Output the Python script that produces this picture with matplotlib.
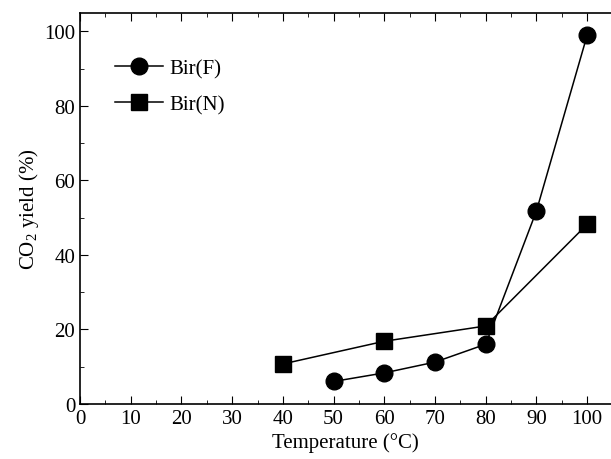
import matplotlib
matplotlib.use('Agg')
import matplotlib.pyplot as plt
from matplotlib.ticker import MultipleLocator

plt.rcParams['font.family'] = ['Liberation Serif', 'DejaVu Serif']
plt.rcParams['mathtext.fontset'] = 'custom'
plt.rcParams['mathtext.rm'] = 'Liberation Serif'

# data
temp_f = [50, 60, 70, 80, 90, 100]
yield_f = [6.0, 8.3, 11.2, 16.0, 51.8, 99.0]
temp_n = [40, 60, 80, 100]
yield_n = [10.7, 16.8, 20.9, 48.2]

fig = plt.figure(figsize=(6.11, 4.6), dpi=100)
ax = fig.add_axes([0.131, 0.12, 0.869, 0.85])

ax.plot(temp_f, yield_f, 'k-', marker='o', markersize=12, lw=1.1, label='Bir(F)')
ax.plot(temp_n, yield_n, 'k-', marker='s', markersize=11, lw=1.1, label='Bir(N)')

ax.set_xlim(0, 104.7)
ax.set_ylim(0, 105)
ax.xaxis.set_major_locator(MultipleLocator(10))
ax.xaxis.set_minor_locator(MultipleLocator(5))
ax.yaxis.set_major_locator(MultipleLocator(20))
ax.yaxis.set_minor_locator(MultipleLocator(10))
ax.tick_params(which='both', direction='in', top=True, right=False, labelsize=15)
ax.tick_params(which='major', length=6)
ax.tick_params(which='minor', length=3)
ax.spines['right'].set_visible(False)
for s in ax.spines.values():
    s.set_linewidth(1.2)

ax.set_xlabel('Temperature (°C)', fontsize=15, labelpad=3)
ax.set_ylabel('CO$_2$ yield (%)', fontsize=15, labelpad=2)

ax.legend(loc='upper left', bbox_to_anchor=(0.03, 0.93), frameon=False, fontsize=15,
          handlelength=2.3, handletextpad=0.3, labelspacing=0.8)

fig.savefig('out.png', dpi=100)
